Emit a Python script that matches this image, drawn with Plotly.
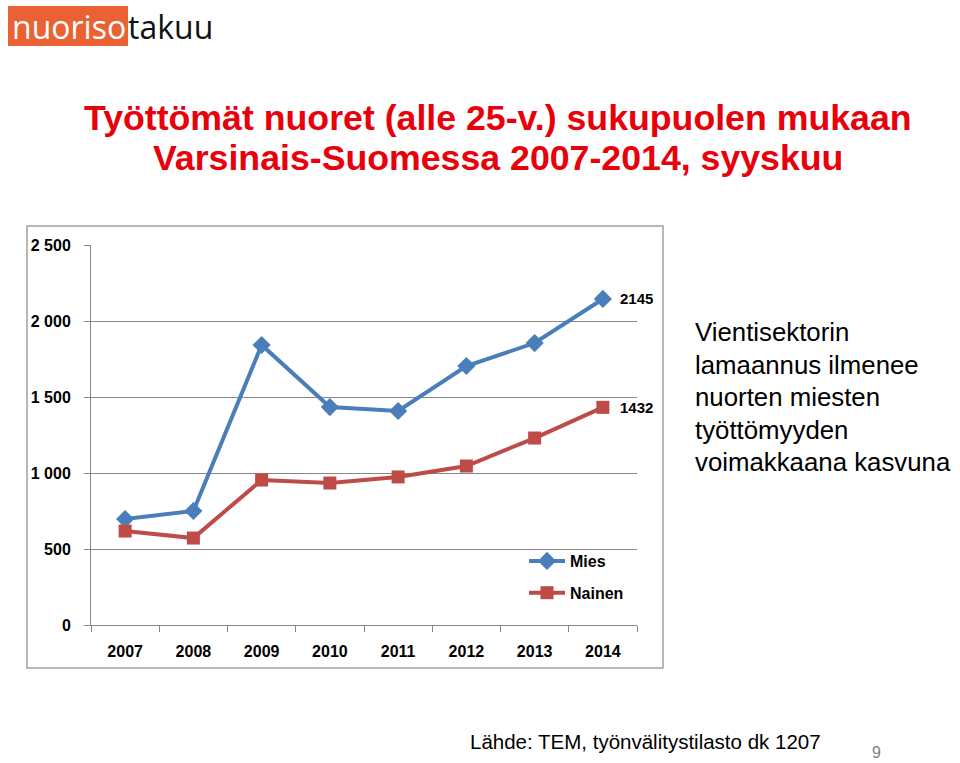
import plotly.graph_objects as go

years = ["2007", "2008", "2009", "2010", "2011", "2012", "2013", "2014"]
mies = [697, 750, 1842, 1434, 1408, 1704, 1855, 2145]
nainen = [618, 572, 954, 934, 974, 1046, 1230, 1432]
y_ticks = [0, 500, 1000, 1500, 2000, 2500]
y_labels = ["0", "500", "1 000", "1 500", "2 000", "2 500"]
title_lines = ["Työttömät nuoret (alle 25-v.) sukupuolen mukaan",
               "Varsinais-Suomessa 2007-2014, syyskuu"]
side_lines = ["Vientisektorin", "lamaannus ilmenee", "nuorten miesten",
              "työttömyyden", "voimakkaana kasvuna"]

W, H = 960, 763
def px(x): return x / W
def py(y): return 1 - y / H

BLUE = "#4a7ebb"
RED = "#be4b48"
TF = "Liberation Sans"

fig = go.Figure()
fig.add_trace(go.Scatter(
    x=years, y=mies, name="<b>Mies</b>", mode="lines+markers",
    line=dict(color=BLUE, width=4),
    marker=dict(symbol="diamond", size=14, color=BLUE),
    legendgroup="a", cliponaxis=False,
))
fig.add_trace(go.Scatter(
    x=years, y=nainen, name="<b>Nainen</b>", mode="lines+markers",
    line=dict(color=RED, width=4),
    marker=dict(symbol="square", size=13, color=RED),
    legendgroup="b", cliponaxis=False,
))

last = len(years) - 1
for vals in (mies, nainen):
    fig.add_annotation(x=last, y=vals[-1], xref="x", yref="y",
                       text=f"<b>{vals[-1]}</b>", showarrow=False,
                       xanchor="left", yanchor="middle", xshift=15,
                       font=dict(family=TF, size=15, color="#000"))

fig.update_layout(
    width=W, height=H, margin=dict(l=0, r=0, t=0, b=0, autoexpand=False),
    paper_bgcolor="white", plot_bgcolor="white",
    showlegend=True,
    legend=dict(x=px(524), y=py(544), xanchor="left", yanchor="top",
                font=dict(family=TF, size=16, color="#000"),
                bgcolor="rgba(0,0,0,0)", tracegroupgap=8, itemwidth=36),
    xaxis=dict(domain=[px(91), px(637)], type="category", range=[-0.5, 7.5],
               showline=True, linecolor="#868686", linewidth=1,
               ticks="outside", tickson="boundaries", ticklen=6, tickcolor="#868686",
               showgrid=False, automargin=False, ticklabelstandoff=12,
               tickprefix="<b>", ticksuffix="</b>",
               tickfont=dict(family=TF, size=16, color="#000")),
    yaxis=dict(domain=[py(625), py(245)], range=[0, 2500],
               tickvals=y_ticks, ticktext=[f"<b>{t}</b>" for t in y_labels],
               showline=True, linecolor="#868686", linewidth=1,
               ticks="outside", ticklen=6, tickcolor="#868686",
               showgrid=True, gridcolor="#868686", gridwidth=1,
               zeroline=False, automargin=False, ticklabelstandoff=10,
               tickfont=dict(family=TF, size=16, color="#000")),
)

# chart border
fig.add_shape(type="rect", xref="paper", yref="paper",
              x0=px(27), x1=px(663), y0=py(668), y1=py(226),
              line=dict(color="#a0a0a0", width=1.5))

# logo
fig.add_shape(type="rect", xref="paper", yref="paper",
              x0=px(8), x1=px(128), y0=py(46), y1=py(6),
              line=dict(width=0), fillcolor="#ea6233")
fig.add_annotation(x=px(10), y=py(27), xref="paper", yref="paper",
                   text="nuoriso", showarrow=False, xanchor="left", yanchor="middle",
                   font=dict(family="Open Sans", size=32, color="white"))
fig.add_annotation(x=px(126), y=py(27), xref="paper", yref="paper",
                   text="takuu", showarrow=False, xanchor="left", yanchor="middle",
                   font=dict(family="Open Sans", size=32, color="#111"))

# title
for i, line in enumerate(title_lines):
    fig.add_annotation(x=px(498), y=py(118 + 40 * i), xref="paper", yref="paper",
                       text=f"<b>{line}</b>", showarrow=False,
                       xanchor="center", yanchor="middle",
                       font=dict(family=TF, size=35.7, color="#e8000b"))

# side text
for i, line in enumerate(side_lines):
    fig.add_annotation(x=px(693), y=py(332 + 32.5 * i), xref="paper", yref="paper",
                       text=line, showarrow=False, xanchor="left", yanchor="middle",
                       font=dict(family=TF, size=25.8, color="#000"))

# source
fig.add_annotation(x=px(468), y=py(741), xref="paper", yref="paper",
                   text="Lähde: TEM, työnvälitystilasto dk 1207",
                   showarrow=False, xanchor="left", yanchor="middle",
                   font=dict(family=TF, size=20.5, color="#000"))
fig.add_annotation(x=px(876), y=py(752), xref="paper", yref="paper",
                   text="9", showarrow=False, xanchor="center", yanchor="middle",
                   font=dict(family=TF, size=16, color="#808080"))

fig.write_html("out.html")
